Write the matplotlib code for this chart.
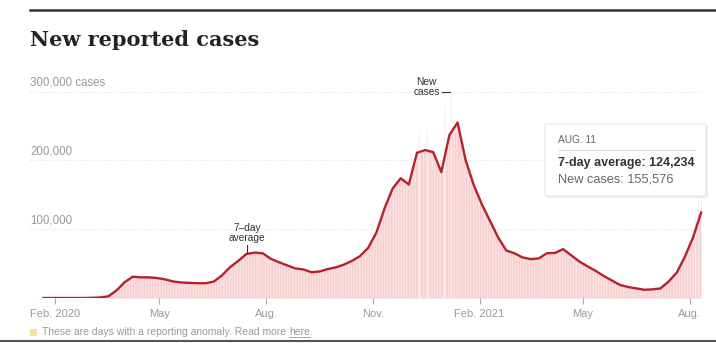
import matplotlib
matplotlib.use("Agg")
import matplotlib.pyplot as plt
import matplotlib.dates as mdates
from matplotlib.patches import FancyBboxPatch, Rectangle
import pandas as pd

W, H = 716, 343

# ---- data (thousands of cases) ----
start_date = "2020-01-22"
avg7 = [0, 0, 0, 0, 0, 0, 0.3, 0.8, 2.5, 11, 23, 31, 30, 30, 29, 27, 24, 22.5, 22, 21.5,
        21.5, 24, 33, 45, 54, 64, 66, 65, 57, 52, 47.5, 43, 41.5, 37.5, 38.5, 42, 44.5, 48.5,
        54, 61, 73, 95, 130, 159, 174, 165, 211, 215, 212, 183, 237, 255, 200, 164, 136, 112,
        88, 69, 65, 59, 56.5, 57.5, 65, 65.5, 71, 62, 53, 46, 39.5, 32, 25.5, 19, 16, 14,
        12, 12.5, 14, 24, 37, 60, 88, 124.234]
spike_dates = ["2020-11-20", "2020-12-11", "2020-12-18", "2021-01-02", "2021-01-08",
               "2021-08-06", "2021-08-09", "2021-08-11"]
spike_values = [195, 240, 245, 280, 300, 130, 145, 155.576]

ytick_vals = [100, 200, 300]
ytick_labels = ["100,000", "200,000", "300,000 cases"]
xtick_dates = ["2020-02-01", "2020-05-01", "2020-08-01", "2020-11-01",
               "2021-02-01", "2021-05-01", "2021-08-01"]
xtick_labels = ["Feb. 2020", "May", "Aug.", "Nov.", "Feb. 2021", "May", "Aug."]

dates = pd.date_range(start_date, periods=len(avg7), freq="7D")

LINE = "#b5222b"
FILL = "#f8cfcf"
GRAY = "#999999"

plt.rcParams["font.family"] = ["Liberation Sans", "DejaVu Sans"]

fig = plt.figure(figsize=(W / 100, H / 100), dpi=100)

def fx(x):
    return x / W

def fy(y):
    return 1 - y / H

ax = fig.add_axes([fx(30), fy(298), (703 - 30) / W, (298 - 84.7) / H])
d0 = mdates.date2num(pd.Timestamp(start_date))
ax.set_xlim(d0 - 11.6, d0 + 568.6)
ax.set_ylim(0, 310)

for v in ytick_vals:
    ax.axhline(v, color="#dddddd", lw=0.8, ls=(0, (1, 2)), zorder=0)

dn = mdates.date2num(dates)
ax.fill_between(dn, 0, avg7, color=FILL, lw=0, zorder=1)
ax.fill_between(dn, 0, avg7, facecolor="none", edgecolor="#fbe2e2", hatch="||||||", lw=0, zorder=1)
ax.bar(mdates.date2num(pd.to_datetime(spike_dates)), spike_values, width=0.7,
       color="#fcecec", lw=0, zorder=1)
ax.plot(dn, avg7, color=LINE, lw=1.7, zorder=3, solid_joinstyle="round")

ax.axhline(0, color="#cccccc", lw=0.8, zorder=2)

for s in ax.spines.values():
    s.set_visible(False)
ax.set_yticks([])
ax.set_xticks(mdates.date2num(pd.to_datetime(xtick_dates)))
ax.set_xticklabels(xtick_labels)
ax.tick_params(axis="x", length=4, color="#aaaaaa", labelcolor=GRAY, labelsize=8, pad=4, width=0.8)
ax.set_facecolor("none")

for v, lab in zip(ytick_vals, ytick_labels):
    ax.annotate(lab, xy=(0, v), xycoords=("axes fraction", "data"), xytext=(0, 2),
                textcoords="offset points", ha="left", va="bottom", fontsize=8.3, color=GRAY)

# top rule and title
fig.add_artist(plt.Line2D([fx(30), 1], [fy(10), fy(10)], color="#333333", lw=1.8))
fig.text(fx(30), fy(40), "New reported cases", fontsize=15, fontweight="bold",
         family=["DejaVu Serif"], color="#222222", va="center", ha="left")

# annotations
fig.text(fx(247), fy(233), "7\u2013day\naverage", fontsize=7.3, color="#333333",
         ha="center", va="center", linespacing=0.95)
fig.add_artist(plt.Line2D([fx(247), fx(247)], [fy(245), fy(253)], color="#333333", lw=0.8))
fig.text(fx(440), fy(87), "New\ncases", fontsize=7.3, color="#333333",
         ha="right", va="center", linespacing=0.95, multialignment="center")
fig.add_artist(plt.Line2D([fx(442), fx(450)], [fy(92), fy(92)], color="#333333", lw=0.8))

# tooltip box
shadow = FancyBboxPatch((fx(546), fy(198)), fx(162), 73 / H, boxstyle="round,pad=0,rounding_size=0.004",
                        transform=fig.transFigure, facecolor="#eeeeee", edgecolor="none", zorder=5)
box = FancyBboxPatch((fx(545), fy(196)), fx(161), 72 / H, boxstyle="round,pad=0,rounding_size=0.004",
                     transform=fig.transFigure, facecolor="white", edgecolor="#e6e6e6", lw=0.8, zorder=6)
fig.add_artist(shadow)
fig.add_artist(box)
fig.text(fx(558), fy(140), "AUG. 11", fontsize=7.3, color="#666666", va="center", ha="left", zorder=7)
fig.add_artist(plt.Line2D([fx(558), fx(695)], [fy(150), fy(150)], color="#dddddd", lw=0.8, zorder=7))
fig.text(fx(558), fy(163), "7-day average: 124,234", fontsize=9, fontweight="bold",
         color="#333333", va="center", ha="left", zorder=7)
fig.text(fx(558), fy(180), "New cases: 155,576", fontsize=9.2, color="#666666",
         va="center", ha="left", zorder=7)

# footer
fig.add_artist(Rectangle((fx(30), fy(336)), fx(7), 7 / H, transform=fig.transFigure,
                         facecolor="#f6e0a0", edgecolor="none"))
ft = fig.text(fx(42), fy(332), "These are days with a reporting anomaly. Read more ", fontsize=7.5,
              color=GRAY, va="center", ha="left")
fig.canvas.draw()
bb = ft.get_window_extent()
ht = fig.text(bb.x1 / W, fy(332), "here", fontsize=7.5, color=GRAY, va="center", ha="left")
fig.canvas.draw()
hb = ht.get_window_extent()
fig.add_artist(plt.Line2D([hb.x0 / W, hb.x1 / W], [fy(337), fy(337)], color=GRAY, lw=0.6))
fig.text(hb.x1 / W, fy(332), ".", fontsize=7.5, color=GRAY, va="center", ha="left")

# bottom separator
fig.add_artist(plt.Line2D([0, 1], [fy(341), fy(341)], color="#555555", lw=1.5))

fig.savefig("out.png", dpi=100)
